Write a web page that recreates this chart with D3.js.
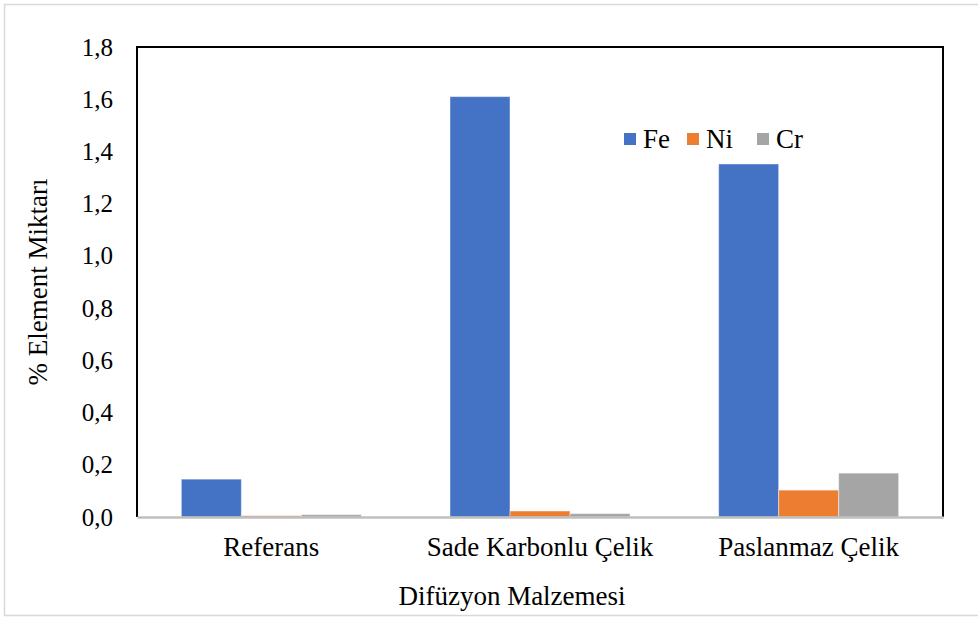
<!DOCTYPE html>
<html>
<head>
<meta charset="utf-8">
<script src="https://cdn.jsdelivr.net/npm/d3@7"></script>
</head>
<body style="margin:0">
<svg id="chart" width="978" height="620"></svg>
<script>
// Data
const categories = ["Referans", "Sade Karbonlu Çelik", "Paslanmaz Çelik"];
const seriesNames = ["Fe", "Ni", "Cr"];
const feValues = [0.145, 1.61, 1.352];
const niValues = [0.005, 0.023, 0.103];
const crValues = [0.009, 0.013, 0.168];
const yTicks = [0, 0.2, 0.4, 0.6, 0.8, 1.0, 1.2, 1.4, 1.6, 1.8];

const colors = ["#4472C4", "#ED7D31", "#A5A5A5"];
const values = [feValues, niValues, crValues];
const serif = "Liberation Serif";
const fontSize = 27;
const tickFontSize = 25;

let rows = categories.map((c, i) => {
    let r = { category: c };
    seriesNames.forEach((s, j) => r[s] = values[j][i]);
    return r;
});

let margin = { left: 137, right: 35, top: 47, bottom: 103 };
let width = 978, height = 620;

let svg = d3.select("#chart");

// outer chart border
svg.append("rect")
    .attr("x", 4.5).attr("y", 4.5)
    .attr("width", 980).attr("height", 611)
    .attr("fill", "none")
    .attr("stroke", "#d9d9d9")
    .attr("stroke-width", 1.5);

let x0 = d3.scaleBand()
    .domain(categories)
    .range([margin.left, width - margin.right])
    .paddingInner(0.33)
    .paddingOuter(0.165);

let x1 = d3.scaleBand()
    .domain(seriesNames)
    .range([0, x0.bandwidth()]);

let y = d3.scaleLinear()
    .domain([0, 1.8])
    .range([height - margin.bottom, margin.top]);

let color = d3.scaleOrdinal().domain(seriesNames).range(colors);

// Bars
svg.append("g")
    .selectAll("g")
    .data(rows)
    .join("g")
    .attr("transform", d => `translate(${x0(d.category)},0)`)
    .selectAll("rect")
    .data(d => seriesNames.map(s => ({ key: s, value: d[s] })))
    .join("rect")
    .attr("x", d => x1(d.key))
    .attr("y", d => y(d.value))
    .attr("width", x1.bandwidth())
    .attr("height", d => y(0) - y(d.value))
    .attr("fill", d => color(d.key))
    .attr("stroke", "rgba(255,255,255,0.45)")
    .attr("stroke-width", 1);

// Frame: left, top, right black
let fx0 = margin.left, fx1 = width - margin.right, fy0 = margin.top, fy1 = height - margin.bottom;
svg.append("path")
    .attr("d", `M${fx0},${fy1}V${fy0}H${fx1}V${fy1}`)
    .attr("fill", "none")
    .attr("stroke", "#000")
    .attr("stroke-width", 2);

// Bottom axis (gray line, no ticks)
let xAxis = g => g
    .attr("transform", `translate(0,${fy1})`)
    .call(d3.axisBottom(x0).tickSize(0).tickPadding(20))
    .call(g => g.select(".domain").attr("stroke", "#bfbfbf").attr("stroke-width", 2.5))
    .call(g => g.selectAll("text")
        .attr("font-family", serif)
        .attr("font-size", fontSize));
svg.append("g").call(xAxis);

// Left axis labels
let fmt = d => d3.format(".1f")(d).replace(".", ",");
let yAxis = g => g
    .attr("transform", `translate(${margin.left},0)`)
    .call(d3.axisLeft(y).tickValues(yTicks).tickFormat(fmt).tickSize(0).tickPadding(24))
    .call(g => g.select(".domain").remove())
    .call(g => g.selectAll("text")
        .attr("font-family", serif)
        .attr("font-size", tickFontSize));
svg.append("g").call(yAxis);

// Axis titles
svg.append("text")
    .attr("x", 512)
    .attr("y", 605)
    .attr("text-anchor", "middle")
    .attr("font-family", serif)
    .attr("font-size", fontSize)
    .text("Difüzyon Malzemesi");

svg.append("text")
    .attr("transform", "translate(47,282) rotate(-90)")
    .attr("text-anchor", "middle")
    .attr("font-family", serif)
    .attr("font-size", fontSize)
    .text("% Element Miktarı");

// Legend
let legendX = [624, 687, 757];
let legend = svg.append("g");
legend.selectAll("rect")
    .data(seriesNames)
    .join("rect")
    .attr("x", (d, i) => legendX[i])
    .attr("y", 133)
    .attr("width", 12)
    .attr("height", 12)
    .attr("fill", d => color(d));
legend.selectAll("text")
    .data(seriesNames)
    .join("text")
    .attr("x", (d, i) => legendX[i] + 19)
    .attr("y", 148)
    .attr("font-family", serif)
    .attr("font-size", fontSize)
    .text(d => d);
</script>
</body>
</html>
